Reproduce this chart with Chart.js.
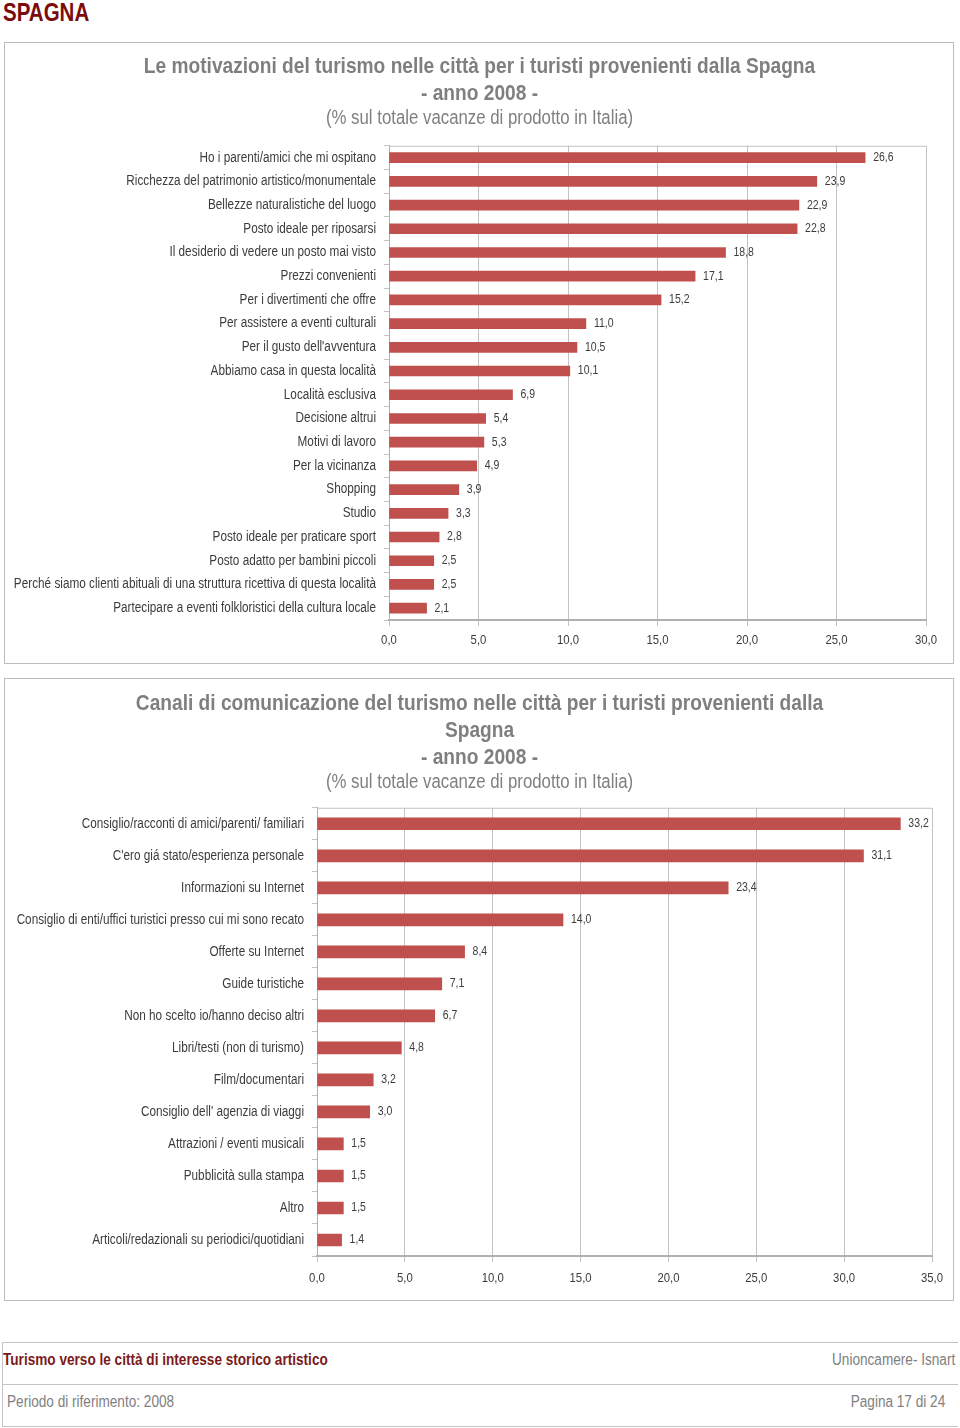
<!DOCTYPE html>
<html>
<head>
<meta charset="utf-8">
<script src="https://cdn.jsdelivr.net/npm/chart.js@4"></script>
<style>
  html, body { margin: 0; padding: 0; background: #fff; }
  body { width: 960px; height: 1428px; position: relative; overflow: hidden;
         font-family: "Liberation Sans", Arial, sans-serif; }
  .nx { display: inline-block; transform: scaleX(0.85); transform-origin: left center; white-space: nowrap; }
  .nxr { display: inline-block; transform: scaleX(0.85); transform-origin: right center; white-space: nowrap; }
  #head { position: absolute; left: 3px; top: -2px; font-size: 25px; font-weight: bold; color: #7a0c0c; }
  #head .nx { transform: scaleX(0.82); }
  .frame { position: absolute; left: 4px; width: 950px; border: 1px solid #bdbdbd; box-sizing: border-box; }
  #f1 { top: 42px; height: 622px; }
  #f2 { top: 678px; height: 623px; }
  .cv { position: absolute; }
  #foot { position: absolute; left: 2px; top: 1342px; width: 956px; height: 85px; border: 1px solid #c4c4c4; border-right: none; box-sizing: border-box; overflow: hidden; }
  #sep { position: absolute; left: 0; right: 0; top: 41px; border-top: 1px solid #c4c4c4; }
  .ft { position: absolute; font-size: 16px; white-space: nowrap; }
</style>
</head>
<body>
<div id="head"><span class="nx">SPAGNA</span></div>
<div class="frame" id="f1"></div>
<div class="frame" id="f2"></div>
<div class="cv" style="left:5px;top:43px;width:949px;height:619px;"><canvas id="c1"></canvas></div>
<div class="cv" style="left:5px;top:679px;width:949px;height:620px;"><canvas id="c2"></canvas></div>
<div id="foot">
  <div id="sep"></div>
  <div class="ft" style="left:0px;top:8px;color:#7b1a1a;font-weight:bold;"><span class="nx">Turismo verso le città di interesse storico artistico</span></div>
  <div class="ft" style="left:829px;top:8px;color:#808080;"><span class="nx">Unioncamere- Isnart</span></div>
  <div class="ft" style="left:4px;top:50px;color:#808080;"><span class="nx">Periodo di riferimento: 2008</span></div>
  <div class="ft" style="right:13px;top:50px;color:#808080;"><span class="nxr">Pagina 17 di 24</span></div>
</div>
<script>
// ---- Data ----
const motivazioniLabels = [
  "Ho i parenti/amici che mi ospitano",
  "Ricchezza del patrimonio artistico/monumentale",
  "Bellezze naturalistiche del luogo",
  "Posto ideale per riposarsi",
  "Il desiderio di vedere un posto mai visto",
  "Prezzi convenienti",
  "Per i divertimenti che offre",
  "Per assistere a eventi culturali",
  "Per il gusto dell'avventura",
  "Abbiamo casa in questa località",
  "Località esclusiva",
  "Decisione altrui",
  "Motivi di lavoro",
  "Per la vicinanza",
  "Shopping",
  "Studio",
  "Posto ideale per praticare sport",
  "Posto adatto per bambini piccoli",
  "Perché siamo clienti abituali di una struttura ricettiva di questa località",
  "Partecipare a eventi folkloristici della cultura locale"
];
const motivazioniValues = [26.6, 23.9, 22.9, 22.8, 18.8, 17.1, 15.2, 11.0, 10.5, 10.1, 6.9, 5.4, 5.3, 4.9, 3.9, 3.3, 2.8, 2.5, 2.5, 2.1];

const canaliLabels = [
  "Consiglio/racconti di amici/parenti/ familiari",
  "C'ero giá stato/esperienza personale",
  "Informazioni su Internet",
  "Consiglio di enti/uffici turistici presso cui mi sono recato",
  "Offerte su Internet",
  "Guide turistiche",
  "Non ho scelto io/hanno deciso altri",
  "Libri/testi (non di turismo)",
  "Film/documentari",
  "Consiglio dell' agenzia di viaggi",
  "Attrazioni / eventi musicali",
  "Pubblicità sulla stampa",
  "Altro",
  "Articoli/redazionali su periodici/quotidiani"
];
const canaliValues = [33.2, 31.1, 23.4, 14.0, 8.4, 7.1, 6.7, 4.8, 3.2, 3.0, 1.5, 1.5, 1.5, 1.4];

const title1 = ["Le motivazioni del turismo nelle città per i turisti provenienti dalla Spagna", "- anno 2008 -"];
const title2 = ["Canali di comunicazione del turismo nelle città per i turisti provenienti dalla", "Spagna", "- anno 2008 -"];
const subtitleText = "(% sul totale vacanze di prodotto in Italia)";

// ---- Narrow text rendering (Arial Narrow look from Liberation Sans) ----
const SX = 0.84;
(function () {
  const proto = CanvasRenderingContext2D.prototype;
  const oFill = proto.fillText, oMeasure = proto.measureText;
  proto.fillText = function (t, x, y) {
    this.save(); this.translate(x, y); this.scale(SX, 1); oFill.call(this, t, 0, 0); this.restore();
  };
  proto.measureText = function (t) {
    const m = oMeasure.call(this, t);
    return {
      width: m.width * SX,
      actualBoundingBoxAscent: m.actualBoundingBoxAscent,
      actualBoundingBoxDescent: m.actualBoundingBoxDescent,
      actualBoundingBoxLeft: m.actualBoundingBoxLeft * SX,
      actualBoundingBoxRight: m.actualBoundingBoxRight * SX,
      fontBoundingBoxAscent: m.fontBoundingBoxAscent,
      fontBoundingBoxDescent: m.fontBoundingBoxDescent
    };
  };
})();

// ---- Styling ----
const FONT = '"Liberation Sans", Arial, sans-serif';
const BAR = '#c0504d';
const GRID = '#c3c3c3';
const TXT = '#3c3c3c';
const fmt = v => Number(v).toFixed(1).replace('.', ',');

const valueLabels = {
  id: 'valueLabels',
  afterDatasetsDraw(chart) {
    const ctx = chart.ctx;
    ctx.save();
    ctx.font = '12.5px ' + FONT;
    ctx.fillStyle = TXT;
    ctx.textAlign = 'left';
    ctx.textBaseline = 'middle';
    const meta = chart.getDatasetMeta(0);
    meta.data.forEach((bar, i) => {
      ctx.fillText(fmt(chart.data.datasets[0].data[i]), bar.x + 8, bar.y);
    });
    ctx.restore();
  }
};
const topBorder = {
  id: 'topBorder',
  beforeDatasetsDraw(chart) {
    const a = chart.chartArea, ctx = chart.ctx;
    ctx.save();
    ctx.strokeStyle = GRID;
    ctx.lineWidth = 1;
    ctx.beginPath();
    ctx.moveTo(a.left, a.top + 0.5);
    ctx.lineTo(a.right, a.top + 0.5);
    ctx.stroke();
    ctx.restore();
  }
};
// let long category labels use the left padding area (no clipping there)
const widenLabelArea = {
  id: 'widenLabelArea',
  afterLayout(chart) { chart.scales.y.left = 0; }
};

function makeChart(id, labels, values, titleLines, cfg) {
  return new Chart(document.getElementById(id), {
    type: 'bar',
    data: { labels, datasets: [{ data: values, backgroundColor: BAR, borderWidth: 0, barThickness: cfg.bar }] },
    options: {
      indexAxis: 'y',
      responsive: true,
      maintainAspectRatio: false,
      animation: false,
      layout: { padding: { left: cfg.pad, right: cfg.pad, top: 0, bottom: 0 } },
      plugins: {
        legend: { display: false },
        tooltip: { enabled: false },
        title: {
          display: true, text: titleLines, color: '#7f7f7f',
          font: { family: FONT, size: 22.8, weight: 'bold', lineHeight: 1.184 },
          padding: { top: cfg.titleTop, bottom: 0 }
        },
        subtitle: {
          display: true, text: subtitleText, color: '#7f7f7f',
          font: { family: FONT, size: 20, weight: 'normal', lineHeight: 1.14 },
          padding: { top: 0, bottom: cfg.subBottom }
        }
      },
      scales: {
        x: {
          min: 0, max: cfg.max,
          ticks: { stepSize: 5, callback: v => fmt(v), color: TXT, padding: cfg.xPad, font: { family: FONT, size: 13.5 } },
          grid: { color: GRID, tickLength: 6, tickColor: GRID },
          border: { color: '#b0b0b0', width: 2 },
          afterFit(s) { s.height = cfg.xH; }
        },
        y: {
          ticks: { color: TXT, padding: 8, autoSkip: false, font: { family: FONT, size: 14 } },
          grid: { drawOnChartArea: false, tickLength: 5, color: GRID },
          border: { color: '#b0b0b0', width: 1 },
          afterFit(s) { s.width = cfg.yW; }
        }
      }
    },
    plugins: [topBorder, valueLabels, widenLabelArea]
  });
}

makeChart('c1', motivazioniLabels, motivazioniValues, title1,
  { max: 30, bar: 10, pad: 28, titleTop: 10, subBottom: 16, xH: 42, yW: 356, xPad: 6 });
makeChart('c2', canaliLabels, canaliValues, title2,
  { max: 35, bar: 12, pad: 22, titleTop: 11, subBottom: 14, xH: 43, yW: 290, xPad: 8 });
</script>
</body>
</html>
